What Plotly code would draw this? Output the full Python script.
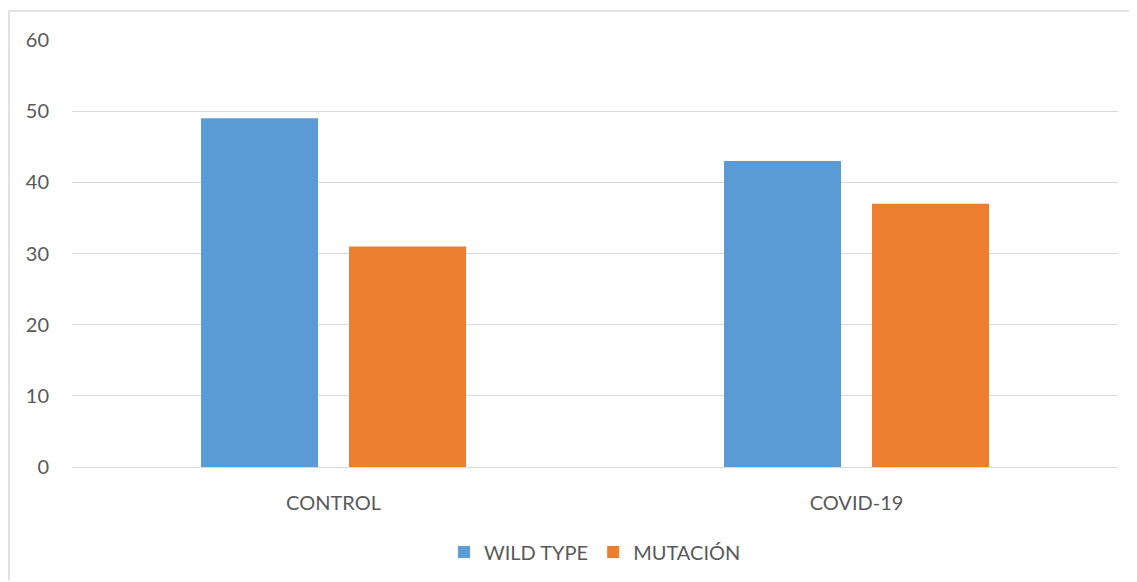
import plotly.graph_objects as go

categories = ["CONTROL", "COVID-19"]
wild_type = [49, 43]
mutacion = [31, 37]
y_ticks = [0, 10, 20, 30, 40, 50, 60]

# figure is placed at page offset (8, 8) by the body margin
W, H = 1129, 574
L, R, T, B = 64, 19, 32, 114
font_family = "Lato, 'Open Sans', sans-serif"
text_color = "#595959"
FS = 20
PW, PH = W - L - R, H - T - B

def px_x(x):
    return (x - L) / PW

def px_y(y):
    return (H - B - y) / PH

fig = go.Figure()
fig.add_trace(go.Bar(
    name="WILD TYPE", x=categories, y=wild_type,
    marker=dict(color="#5B9BD5", line=dict(width=0)),
    width=0.2237, offset=-0.2533,
))
fig.add_trace(go.Bar(
    name="MUTACIÓN", x=categories, y=mutacion,
    marker=dict(color="#ED7D31", line=dict(width=0)),
    width=0.2237, offset=0.0296,
))

fig.update_layout(
    width=W, height=H,
    margin=dict(l=L, r=R, t=T, b=B, pad=0),
    paper_bgcolor="white", plot_bgcolor="white",
    barmode="overlay",
    font=dict(family=font_family, size=FS, color=text_color),
    showlegend=True,
    legend=dict(orientation="h", x=0.5, xanchor="center", y=px_y(544), yanchor="middle",
                font=dict(size=FS, color=text_color), traceorder="normal",
                itemsizing="constant"),
    xaxis=dict(showgrid=False, showline=True, linecolor="#D9D9D9", linewidth=1,
               ticks="", ticklabelstandoff=18, tickfont=dict(size=FS, color=text_color),
               fixedrange=True),
    yaxis=dict(range=[0, 60], tickvals=y_ticks, showgrid=True, gridcolor="#D9D9D9",
               gridwidth=1, zeroline=True, zerolinecolor="#D9D9D9", zerolinewidth=1,
               showline=False, ticks="", ticklabelstandoff=22,
               tickfont=dict(size=FS, color=text_color), fixedrange=True),
    shapes=[
        dict(type="line", xref="paper", yref="paper",
             x0=px_x(1), x1=px_x(1), y0=px_y(H), y1=px_y(3),
             line=dict(color="#D9D9D9", width=1.5)),
        dict(type="line", xref="paper", yref="paper",
             x0=px_x(1), x1=px_x(W), y0=px_y(3), y1=px_y(3),
             line=dict(color="#D9D9D9", width=1.5)),
    ],
)

fig.write_html("out.html")
